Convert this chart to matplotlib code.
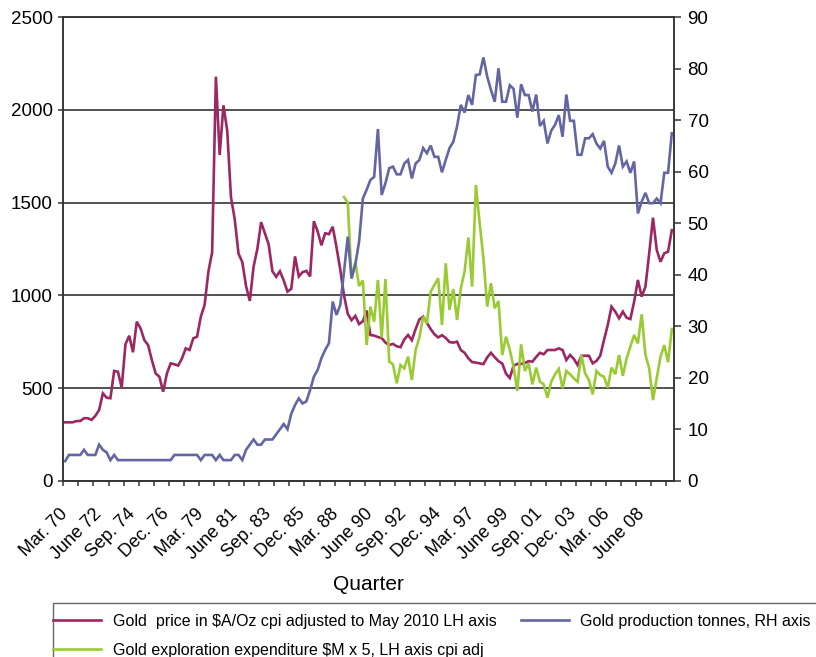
import numpy as np
import matplotlib
matplotlib.use("Agg")
import matplotlib.pyplot as plt
from matplotlib.patches import Rectangle
from matplotlib.ticker import FixedLocator, NullFormatter

plt.rcParams['font.family'] = ['Liberation Sans', 'DejaVu Sans']

# Quarterly data, Mar 1970 .. Jun 2010 (162 quarters)
gold_price = [
    315, 315, 315, 322, 322, 337, 337, 328, 350, 381,
    471, 448, 445, 592, 588, 502, 736, 782, 693, 858,
    822, 759, 732, 651, 579, 561, 480, 579, 633, 628,
    621, 660, 714, 705, 768, 777, 885, 948, 1127, 1232,
    2180, 1757, 2025, 1890, 1530, 1410, 1225, 1180, 1050, 970,
    1155, 1250, 1395, 1335, 1275, 1130, 1100, 1130, 1080, 1020,
    1035, 1210, 1102, 1125, 1132, 1102, 1400, 1345, 1270, 1335,
    1330, 1370, 1260, 1140, 1000, 900, 866, 889, 845, 860,
    918, 786, 783, 775, 770, 745, 732, 738, 725, 720,
    762, 786, 758, 818, 870, 885, 852, 818, 790, 773,
    785, 770, 748, 745, 750, 705, 690, 660, 640, 637,
    633, 629, 665, 690, 666, 645, 632, 577, 554, 620,
    630, 630, 635, 645, 642, 668, 690, 682, 705, 705,
    705, 714, 705, 651, 678, 657, 624, 674, 674, 674,
    633, 646, 674, 759, 840, 939, 912, 876, 912, 879,
    872, 966, 1083, 993, 1047, 1227, 1419, 1245, 1181, 1227,
    1235, 1352,
]

gold_production = [
    3.8, 5, 5, 5, 5, 6, 5, 5, 5, 7,
    6, 5.5, 4, 5, 4, 4, 4, 4, 4, 4,
    4, 4, 4, 4, 4, 4, 4, 4, 4, 5,
    5, 5, 5, 5, 5, 5, 4, 5, 5, 5,
    4, 5, 4, 4, 4, 5, 5, 4, 6, 7,
    8, 7, 7, 8, 8, 8, 9, 10, 11, 10,
    13, 14.7, 16, 15, 15.4, 17.6, 20.2, 21.5, 23.8, 25.4,
    26.7, 34.8, 32.2, 34.1, 40.6, 47.4, 39.3, 42, 46.4, 54.8,
    56.5, 58.4, 59, 68.3, 55.5, 57.8, 60.7, 61, 59.5, 59.5,
    61.6, 62.3, 58.7, 61.6, 62.3, 64.6, 63.6, 65.1, 62.9, 62.9,
    59.9, 62.3, 64.6, 65.8, 68.8, 73, 71.5, 74.9, 73, 78.8,
    78.9, 82.2, 78.5, 75.9, 73.6, 80.1, 73.6, 73.6, 76.8, 76.1,
    70.5, 77, 74.9, 74.9, 71.7, 75, 68.9, 69.9, 65.5, 68,
    69.1, 71, 66.8, 75, 69.9, 69.9, 63.3, 63.3, 66.5, 66.5,
    67.3, 65.5, 64.5, 66, 61, 59.8, 61.6, 65.1, 61, 62,
    59.8, 62, 51.9, 54.2, 55.9, 53.9, 53.9, 54.8, 53.9, 59.8,
    59.8, 67.5,
]

exploration = [np.nan] * 74 + [
    1530, 1500, 1090, 1180, 1050, 1080,
    732, 939, 858, 1083, 772, 1088, 642, 628, 525, 624,
    606, 669, 543, 705, 772, 885, 849, 1020, 1056, 1092,
    840, 1173, 921, 1034, 867, 1038, 1128, 1312, 1047, 1595,
    1389, 1200, 939, 1065, 930, 969, 678, 777, 705, 615,
    484, 736, 592, 633, 520, 610, 534, 520, 448, 534,
    574, 603, 499, 592, 574, 552, 534, 678, 579, 543,
    466, 592, 570, 561, 502, 610, 574, 678, 566, 660,
    723, 786, 741, 898, 678, 606, 435, 552, 669, 732,
    639, 818,
]

tick_labels = ['Mar. 70', 'June 72', 'Sep. 74', 'Dec. 76', 'Mar. 79', 'June 81',
               'Sep. 83', 'Dec. 85', 'Mar. 88', 'June 90', 'Sep. 92', 'Dec. 94',
               'Mar. 97', 'June 99', 'Sep. 01', 'Dec. 03', 'Mar. 06', 'June 08']

legend_labels = ['Gold  price in $A/Oz cpi adjusted to May 2010 LH axis',
                 'Gold exploration expenditure $M x 5, LH axis cpi adj',
                 'Gold production tonnes, RH axis']

C_PRICE = '#9B2763'
C_PROD = '#6366A2'
C_EXPL = '#9ACA34'
AXC = '#333333'

n = len(gold_price)
x = np.arange(n)

W, H = 816, 657
fig = plt.figure(figsize=(W / 100, H / 100), dpi=100)
L, R, T, B = 63.3, 673.7, 17.3, 480.7
ax = fig.add_axes([L / W, 1 - B / H, (R - L) / W, (B - T) / H])
ax2 = ax.twinx()

lp, = ax.plot(x, gold_price, color=C_PRICE, lw=1.9, solid_joinstyle='miter', zorder=3)
le, = ax.plot(x, exploration, color=C_EXPL, lw=1.9, solid_joinstyle='miter', zorder=4)
lb, = ax2.plot(x, gold_production, color=C_PROD, lw=1.9, solid_joinstyle='miter', zorder=3)

ax.set_xlim(-0.5, n - 0.5)
ax.set_ylim(0, 2500)
ax2.set_ylim(0, 90)

ax.set_yticks(np.arange(0, 2501, 500))
ax2.set_yticks(np.arange(0, 91, 10))
ax.yaxis.grid(True, color='#222222', lw=1.1)
ax.set_axisbelow(True)

ax.xaxis.set_major_locator(FixedLocator(np.arange(0, n, 9)[:len(tick_labels)]))
ax.set_xticklabels(tick_labels, rotation=45, ha='right', va='center',
                   rotation_mode='anchor', fontsize=13)
ax.xaxis.set_minor_locator(FixedLocator(np.arange(-0.5, n, 4)))
ax.xaxis.set_minor_formatter(NullFormatter())
ax.tick_params(axis='x', which='major', length=0, pad=22)
ax.tick_params(axis='x', which='minor', length=3.6, width=1.1, color=AXC, direction='out')
ax.tick_params(axis='y', length=3.6, width=1.1, color=AXC, pad=4, labelsize=13.5)
ax2.tick_params(axis='y', length=5, width=1.1, color=AXC, pad=5, labelsize=13.5)

for a in (ax, ax2):
    for s in a.spines.values():
        s.set_color(AXC)
        s.set_linewidth(1.1)

fig.text((L + R) / 2 / W, 1 - 584 / H, 'Quarter', ha='center', va='center', fontsize=15)

# legend box (extends past the figure edge as in the original)
fig.patches.append(Rectangle((53 / W, -0.2), 1.0, 0.2 + 1 - 603 / H,
                             transform=fig.transFigure, fill=False,
                             edgecolor='#666666', lw=1.0))
fig.legend([lp, le, lb], legend_labels, ncol=2, loc='upper left',
           bbox_to_anchor=(53 / W, 1 - 614 / H), frameon=False,
           fontsize=11.5, handlelength=3.0, handletextpad=0.75,
           columnspacing=1.5, labelspacing=0.88, borderpad=0, borderaxespad=0)

fig.savefig('out.png', dpi=100)
